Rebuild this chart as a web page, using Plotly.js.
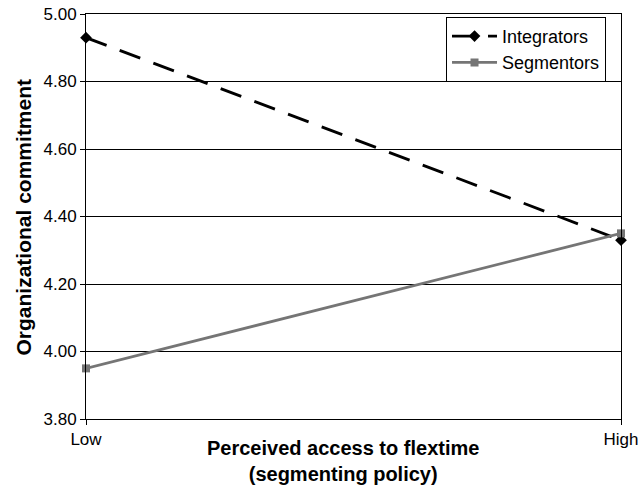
<!DOCTYPE html>
<html>
<head>
<meta charset="utf-8">
<script src="https://cdn.plot.ly/plotly-3.0.1.min.js"></script>
<style>html,body{margin:0;padding:0;background:#fff;}#chart{width:641px;height:490px;}</style>
</head>
<body>
<div id="chart"></div>
<script>
const categories = ['Low', 'High'];
const integrators = [4.93, 4.33];
const segmentors = [3.95, 4.35];
const yTicks = [3.80, 4.00, 4.20, 4.40, 4.60, 4.80, 5.00];
const xTitle = '<b>Perceived access to flextime<br>(segmenting policy)</b>';
const yTitle = '<b>Organizational commitment</b>';

const xPos = categories.map((c, i) => i);

const traces = [
  {
    x: xPos, y: integrators, name: 'Integrators', type: 'scatter', mode: 'lines+markers',
    line: {color: '#000000', width: 2.8, dash: '22px,14px'},
    marker: {symbol: 'diamond', size: 9, color: '#000000'},
    cliponaxis: false
  },
  {
    x: xPos, y: segmentors, name: 'Segmentors', type: 'scatter', mode: 'lines+markers',
    line: {color: '#757575', width: 2.8},
    marker: {symbol: 'square', size: 8, color: '#757575'},
    cliponaxis: false
  }
];

const layout = {
  width: 641, height: 490,
  margin: {l: 86, r: 20, t: 14, b: 71},
  paper_bgcolor: '#ffffff', plot_bgcolor: '#ffffff',
  font: {family: 'Liberation Sans, Arial, sans-serif', size: 17, color: '#000'},
  showlegend: true,
  legend: {
    x: 0.972, xanchor: 'right', y: 0.993, yanchor: 'top',
    bordercolor: '#000', borderwidth: 1, bgcolor: '#fff',
    font: {size: 18}, tracegroupgap: 0, itemwidth: 45
  },
  xaxis: {
    range: [0, 1], tickvals: xPos, ticktext: categories,
    showgrid: false, zeroline: false, showline: true, linecolor: '#000', linewidth: 1,
    mirror: true, ticks: 'outside', ticklen: 5, tickcolor: '#000',
    tickfont: {size: 17}
  },
  yaxis: {
    range: [3.8, 5.0], tickvals: yTicks, ticktext: yTicks.map(v => v.toFixed(2)),
    showgrid: true, gridcolor: '#000', gridwidth: 1, zeroline: false,
    showline: true, linecolor: '#000', linewidth: 1, mirror: true,
    ticks: 'outside', ticklen: 5, tickcolor: '#000',
    tickfont: {size: 17}
  },
  annotations: [
    {text: xTitle, xref: 'paper', yref: 'paper', x: 0.4804, y: -0.1035,
     xanchor: 'center', yanchor: 'middle', showarrow: false, font: {size: 20}},
    {text: yTitle, xref: 'paper', yref: 'paper', x: -0.1159, y: 0.5, textangle: -90,
     xanchor: 'center', yanchor: 'middle', showarrow: false, font: {size: 21}}
  ]
};

Plotly.newPlot('chart', traces, layout, {displayModeBar: false, staticPlot: true});
</script>
</body>
</html>
